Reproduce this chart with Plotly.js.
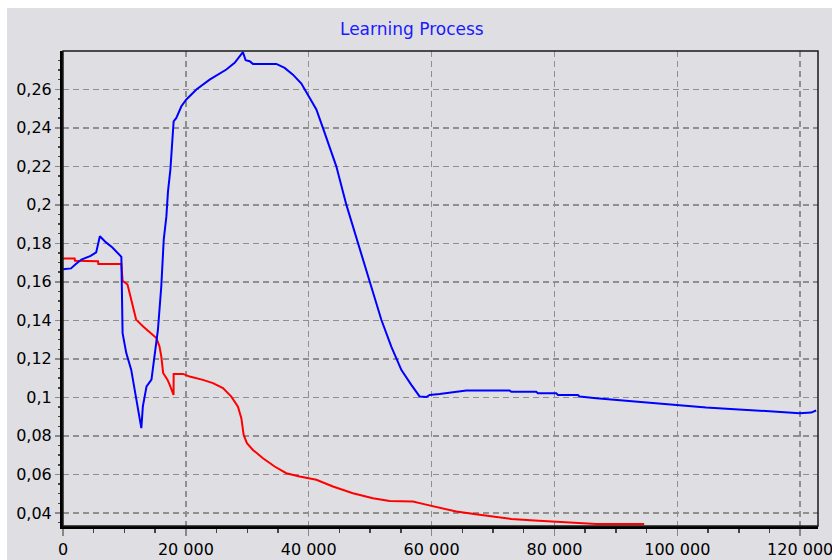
<!DOCTYPE html>
<html>
<head>
<meta charset="utf-8">
<script src="https://cdn.plot.ly/plotly-3.0.1.min.js"></script>
<style>html,body{margin:0;padding:0;background:#fff;}#chart{width:832px;height:560px;}</style>
</head>
<body>
<div id="chart"></div>
<script>
// Blue series (iteration, value)
const blueX = [0, 1300, 2000, 3000, 4500, 5400, 6000, 7000, 8000, 9500, 9700, 10300, 11100, 11900, 12500, 12750, 13000, 13600, 14400, 14900, 15450, 16000, 16400, 16830, 17090, 17480, 17740, 18010, 18450, 19270, 20080, 21710, 23870, 26590, 27940, 29290, 29730, 30380, 30920, 34730, 36080, 37430, 38800, 39870, 41240, 42310, 43400, 44490, 46120, 48010, 49910, 51820, 53440, 55070, 56700, 58050, 59140, 59680, 61300, 63200, 65650, 72700, 72970, 77040, 77300, 80290, 80560, 83810, 84090, 86800, 90060, 93310, 96830, 100630, 104700, 109310, 114190, 119350, 119890, 121790, 122600];
const blueY = [0.1665, 0.1670, 0.1690, 0.1716, 0.1735, 0.1753, 0.1837, 0.1805, 0.1780, 0.1730, 0.1334, 0.1230, 0.1144, 0.1005, 0.0900, 0.0840, 0.0953, 0.1057, 0.1092, 0.1230, 0.1350, 0.1577, 0.1820, 0.1940, 0.2070, 0.2183, 0.2304, 0.2434, 0.2451, 0.2512, 0.2547, 0.2599, 0.2650, 0.2703, 0.2738, 0.2793, 0.2751, 0.2746, 0.2732, 0.2732, 0.2711, 0.2676, 0.2630, 0.2570, 0.2495, 0.2400, 0.2304, 0.2200, 0.2001, 0.1802, 0.1602, 0.1403, 0.1264, 0.1143, 0.1065, 0.1005, 0.1002, 0.1013, 0.1018, 0.1027, 0.1036, 0.1036, 0.1029, 0.1029, 0.1022, 0.1022, 0.1013, 0.1013, 0.1005, 0.0996, 0.0987, 0.0975, 0.0967, 0.0956, 0.0947, 0.0939, 0.0929, 0.0921, 0.0918, 0.0921, 0.0932];

// Red series (iteration, value)
const redX = [0, 1900, 1950, 5700, 5750, 9500, 9700, 10500, 11100, 11900, 13000, 15200, 15700, 16000, 16300, 17000, 17370, 18000, 18010, 19530, 20620, 22780, 24410, 26040, 27400, 28480, 29030, 29410, 29940, 30920, 32550, 34450, 36350, 38520, 41240, 43940, 47190, 50450, 53170, 56960, 58580, 60760, 62390, 64020, 67810, 69980, 72970, 76760, 81370, 86800, 94600];
const redY = [0.1721, 0.1721, 0.1710, 0.1707, 0.1693, 0.1693, 0.1606, 0.1586, 0.1508, 0.1404, 0.1369, 0.1308, 0.1265, 0.1213, 0.1127, 0.1092, 0.1065, 0.1013, 0.1122, 0.1122, 0.1108, 0.1091, 0.1074, 0.1048, 0.1004, 0.0952, 0.0892, 0.0805, 0.0762, 0.0727, 0.0684, 0.0641, 0.0606, 0.0589, 0.0572, 0.0537, 0.0502, 0.0476, 0.0462, 0.0459, 0.0447, 0.0430, 0.0416, 0.0407, 0.0390, 0.0381, 0.0369, 0.0360, 0.0350, 0.0342, 0.0342];

const chartTitle = 'Learning Process';

const bg = '#dfdfe3';
const font = 'DejaVu Sans, Verdana, sans-serif';

const traces = [
  {x: redX, y: redY, type: 'scatter', mode: 'lines', line: {color: '#ff0000', width: 2}, hoverinfo: 'skip'},
  {x: blueX, y: blueY, type: 'scatter', mode: 'lines', line: {color: '#0000ff', width: 2}, hoverinfo: 'skip'}
];

const layout = {
  width: 832, height: 560,
  margin: {l: 63, r: 14, t: 51, b: 34, pad: 0},
  paper_bgcolor: bg,
  plot_bgcolor: bg,
  showlegend: false,
  separators: ', ',
  font: {family: font, size: 16, color: '#000'},
  title: {text: chartTitle, font: {family: font, size: 17, color: '#1a1aff'}, x: 0.495, xanchor: 'center', y: 0.948, yanchor: 'middle', xref: 'container', yref: 'container'},
  xaxis: {
    range: [0, 122900], tick0: 0, dtick: 20000, tickmode: 'linear', tickformat: ',d',
    ticklabeloverflow: 'allow',
    showline: true, linewidth: 3, linecolor: '#000', zeroline: false,
    showgrid: true, gridcolor: '#8f8f8f', gridwidth: 1.5, griddash: '6px,4px',
    ticks: 'outside', ticklen: 7, tickwidth: 1.5, tickcolor: '#888',
    minor: {dtick: 5000, tick0: 0, ticks: 'outside', ticklen: 4, tickwidth: 1.5, tickcolor: '#444', showgrid: false},
    tickfont: {family: font, size: 16, color: '#000'}, fixedrange: true
  },
  yaxis: {
    range: [0.0332, 0.2799], tick0: 0, dtick: 0.02, tickmode: 'linear',
    showline: true, linewidth: 3, linecolor: '#000', zeroline: false,
    showgrid: true, gridcolor: '#8f8f8f', gridwidth: 1.5, griddash: '6px,4px',
    ticks: 'outside', ticklen: 5, tickwidth: 1.5, tickcolor: '#888',
    minor: {dtick: 0.005, tick0: 0, ticks: 'outside', ticklen: 2, tickwidth: 1.5, tickcolor: '#444', showgrid: false},
    tickfont: {family: font, size: 16, color: '#000'}, fixedrange: true
  },
  shapes: [
    {type: 'rect', xref: 'paper', yref: 'paper', x0: 0, x1: 1, y0: 0, y1: 1, line: {color: '#1a1a1a', width: 1.5}, fillcolor: 'rgba(0,0,0,0)', layer: 'above'},
    {type: 'rect', xref: 'paper', yref: 'paper', x0: -0.2, x1: 1.2, y0: 1.0905, y1: 1.3, line: {width: 0}, fillcolor: '#ffffff', layer: 'above'},
    {type: 'rect', xref: 'paper', yref: 'paper', x0: -0.2, x1: -0.0742, y0: -0.3, y1: 1.3, line: {width: 0}, fillcolor: '#ffffff', layer: 'above'}
  ]
};

Plotly.newPlot('chart', traces, layout, {staticPlot: true, displayModeBar: false});
</script>
</body>
</html>
